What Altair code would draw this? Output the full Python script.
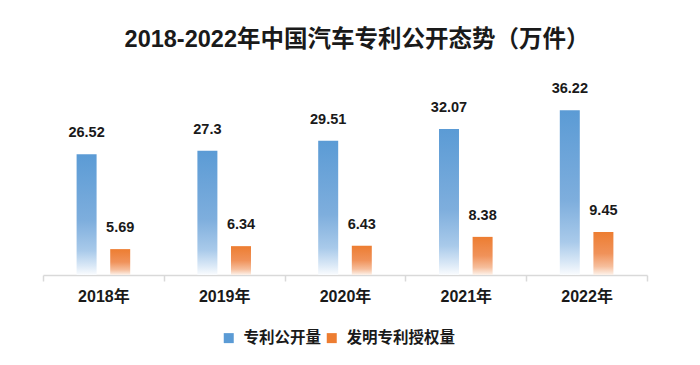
import altair as alt
import pandas as pd

years = ["2018年", "2019年", "2020年", "2021年", "2022年"]
series_names = ["专利公开量", "发明专利授权量"]
pub_values = [26.52, 27.3, 29.51, 32.07, 36.22]
grant_values = [5.69, 6.34, 6.43, 8.38, 9.45]
pub_labels = ["26.52", "27.3", "29.51", "32.07", "36.22"]
grant_labels = ["5.69", "6.34", "6.43", "8.38", "9.45"]

rows = []
for y, p, g, pl, gl in zip(years, pub_values, grant_values, pub_labels, grant_labels):
    rows.append({"year": y, "series": series_names[0], "value": p, "label": pl})
    rows.append({"year": y, "series": series_names[1], "value": g, "label": gl})
df = pd.DataFrame(rows)

LAT = "Liberation Sans, Noto Sans CJK SC, sans-serif"
CJK = "Noto Sans CJK SC, sans-serif"

blue_grad = alt.LinearGradient(
    gradient="linear", x1=0, x2=0, y1=0, y2=1,
    stops=[
        alt.GradientStop(color="#5B9BD5", offset=0),
        alt.GradientStop(color="#7EAEDD", offset=0.55),
        alt.GradientStop(color="#A9CAEA", offset=0.8),
        alt.GradientStop(color="#D8E7F6", offset=0.92),
        alt.GradientStop(color="#FAFCFE", offset=1),
    ],
)
orange_grad = alt.LinearGradient(
    gradient="linear", x1=0, x2=0, y1=0, y2=1,
    stops=[
        alt.GradientStop(color="#ED7D31", offset=0),
        alt.GradientStop(color="#F0925A", offset=0.5),
        alt.GradientStop(color="#F6BE9C", offset=0.8),
        alt.GradientStop(color="#FDF2EA", offset=1),
    ],
)

base = alt.Chart(df).encode(
    x=alt.X(
        "year:N", sort=years,
        scale=alt.Scale(paddingInner=0, paddingOuter=0),
        axis=alt.Axis(
            title=None, labelAngle=0, tickBand="extent", tickSize=6,
            tickColor="#D9D9D9", domainColor="#D9D9D9", domainWidth=1.5, tickWidth=1.5,
            labelFont=LAT, labelFontSize=16, labelFontWeight="bold",
            labelColor="#1a1a1a", labelPadding=7, grid=False,
        ),
    ),
    xOffset=alt.XOffset(
        "series:N", sort=series_names,
        scale=alt.Scale(paddingInner=0.405, paddingOuter=1),
    ),
    y=alt.Y("value:Q", scale=alt.Scale(domain=[0, 40]), axis=None),
)

legend_layer = base.mark_bar(opacity=0).encode(
    color=alt.Color(
        "series:N", sort=series_names,
        scale=alt.Scale(domain=series_names, range=["#5B9BD5", "#ED7D31"]),
        legend=alt.Legend(
            title=None, orient="none", legendX=178, legendY=237,
            direction="horizontal", symbolType="square", symbolSize=100,
            symbolOpacity=1, symbolStrokeWidth=0, labelFont=CJK,
            labelFontSize=15.5, labelFontWeight="bold", labelColor="#1a1a1a",
            columnPadding=2, labelOffset=7, labelLimit=300,
        ),
    )
)

blue_bars = base.transform_filter(alt.datum.series == series_names[0]).mark_bar(color=blue_grad)
orange_bars = base.transform_filter(alt.datum.series == series_names[1]).mark_bar(color=orange_grad)

labels = base.mark_text(
    dy=-17, baseline="alphabetic", align="center", font=LAT,
    fontSize=14.5, fontWeight="bold", color="#1a1a1a",
).encode(text="label:N")

chart = alt.layer(legend_layer, blue_bars, orange_bars, labels).properties(
    width=604, height=182,
    title=alt.TitleParams(
        "2018-2022年中国汽车专利公开态势（万件）",
        font=LAT, fontSize=23.5, fontWeight="bold", color="#1a1a1a",
        anchor="middle", dx=12, offset=30,
    ),
    autosize=alt.AutoSizeParams(type="none"),
    padding={"left": 35, "top": 85, "right": 40, "bottom": 80},
    background="white",
).configure_view(stroke=None)

chart.save("out.html", embed_options={"renderer": "svg", "actions": False})
